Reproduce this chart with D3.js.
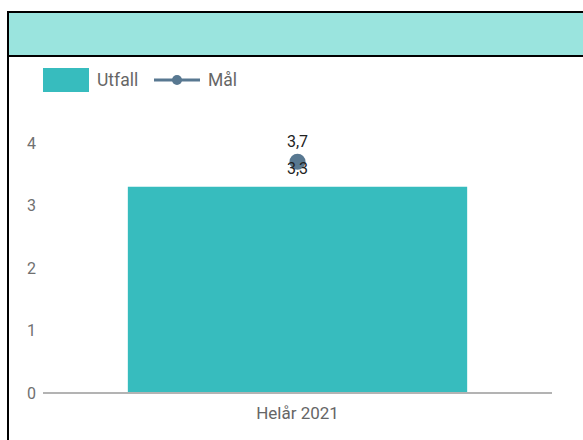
<!DOCTYPE html>
<html>
<head>
<meta charset="utf-8">
<script src="https://cdn.jsdelivr.net/npm/d3@7"></script>
<style>
  body { margin: 0; background: #fff; }
  text { font-family: Roboto, sans-serif; }
</style>
</head>
<body>
<div id="chart-area"></div>
<script>
// data
var categories = ["Helår 2021"];
var utfall = [3.3];
var mal = [3.7];
var yTicks = [0, 1, 2, 3, 4];
var seriesNames = ["Utfall", "Mål"];

var width = 583, height = 440;
var barColor = "#37bcbe", lineColor = "#587891";

var svg = d3.select("#chart-area").append("svg")
    .attr("width", width)
    .attr("height", height);

// frame + header band
svg.append("rect")
    .attr("x", 8).attr("y", 12)
    .attr("width", 600).attr("height", 44)
    .attr("fill", "#9ae4de");
svg.append("path")
    .attr("d", "M8,460 V12 H600 M8,56 H600")
    .attr("fill", "none")
    .attr("stroke", "#000")
    .attr("stroke-width", 2);

// legend
var legend = svg.append("g");
legend.append("rect")
    .attr("x", 43).attr("y", 68)
    .attr("width", 46).attr("height", 24)
    .attr("fill", barColor);
legend.append("text")
    .attr("x", 97).attr("y", 86)
    .attr("font-size", 17.5)
    .attr("fill", "#666")
    .text(seriesNames[0]);
legend.append("line")
    .attr("x1", 154).attr("x2", 200)
    .attr("y1", 80).attr("y2", 80)
    .attr("stroke", lineColor)
    .attr("stroke-width", 3);
legend.append("circle")
    .attr("cx", 177).attr("cy", 80).attr("r", 5)
    .attr("fill", lineColor);
legend.append("text")
    .attr("x", 208).attr("y", 86)
    .attr("font-size", 17.5)
    .attr("fill", "#666")
    .text(seriesNames[1]);

// scales
var x = d3.scaleBand()
    .domain(categories)
    .range([43, 552])
    .paddingInner(0)
    .paddingOuter(0.25);

var y = d3.scaleLinear()
    .domain([0, 4])
    .range([393, 143]);

// y axis labels (no line)
svg.selectAll(".ylab")
    .data(yTicks)
    .enter()
    .append("text")
    .attr("class", "ylab")
    .attr("x", 36)
    .attr("y", function(d){ return y(d) + 5.5; })
    .attr("text-anchor", "end")
    .attr("font-size", 16)
    .attr("fill", "#707070")
    .text(function(d){ return d; });

// bars
svg.selectAll(".bar")
    .data(utfall)
    .enter()
    .append("rect")
    .attr("class", "bar")
    .attr("x", function(d, i){ return x(categories[i]); })
    .attr("width", x.bandwidth())
    .attr("y", function(d){ return y(d); })
    .attr("height", function(d){ return y(0) - y(d); })
    .attr("fill", barColor);

// baseline
svg.append("line")
    .attr("x1", 43).attr("x2", 552)
    .attr("y1", y(0)).attr("y2", y(0))
    .attr("stroke", "#b3b3b3")
    .attr("stroke-width", 2);

// category labels
svg.selectAll(".xlab")
    .data(categories)
    .enter()
    .append("text")
    .attr("class", "xlab")
    .attr("x", function(d){ return x(d) + x.bandwidth() / 2; })
    .attr("y", 419)
    .attr("text-anchor", "middle")
    .attr("font-size", 17)
    .attr("fill", "#666")
    .text(function(d){ return d; });

var fmt = function(v){ return String(v).replace(".", ","); };

// target points
svg.selectAll(".dot")
    .data(mal)
    .enter()
    .append("circle")
    .attr("class", "dot")
    .attr("cx", function(d, i){ return x(categories[i]) + x.bandwidth() / 2; })
    .attr("cy", function(d){ return y(d); })
    .attr("r", 8)
    .attr("fill", lineColor);

// value labels
svg.selectAll(".barlab")
    .data(utfall)
    .enter()
    .append("text")
    .attr("class", "barlab")
    .attr("x", function(d, i){ return x(categories[i]) + x.bandwidth() / 2; })
    .attr("y", function(d){ return y(d) - 13; })
    .attr("text-anchor", "middle")
    .attr("font-size", 16)
    .attr("fill", "#222")
    .text(fmt);

svg.selectAll(".mallab")
    .data(mal)
    .enter()
    .append("text")
    .attr("class", "mallab")
    .attr("x", function(d, i){ return x(categories[i]) + x.bandwidth() / 2; })
    .attr("y", function(d){ return y(d) - 15; })
    .attr("text-anchor", "middle")
    .attr("font-size", 16)
    .attr("fill", "#222")
    .text(fmt);
</script>
</body>
</html>
